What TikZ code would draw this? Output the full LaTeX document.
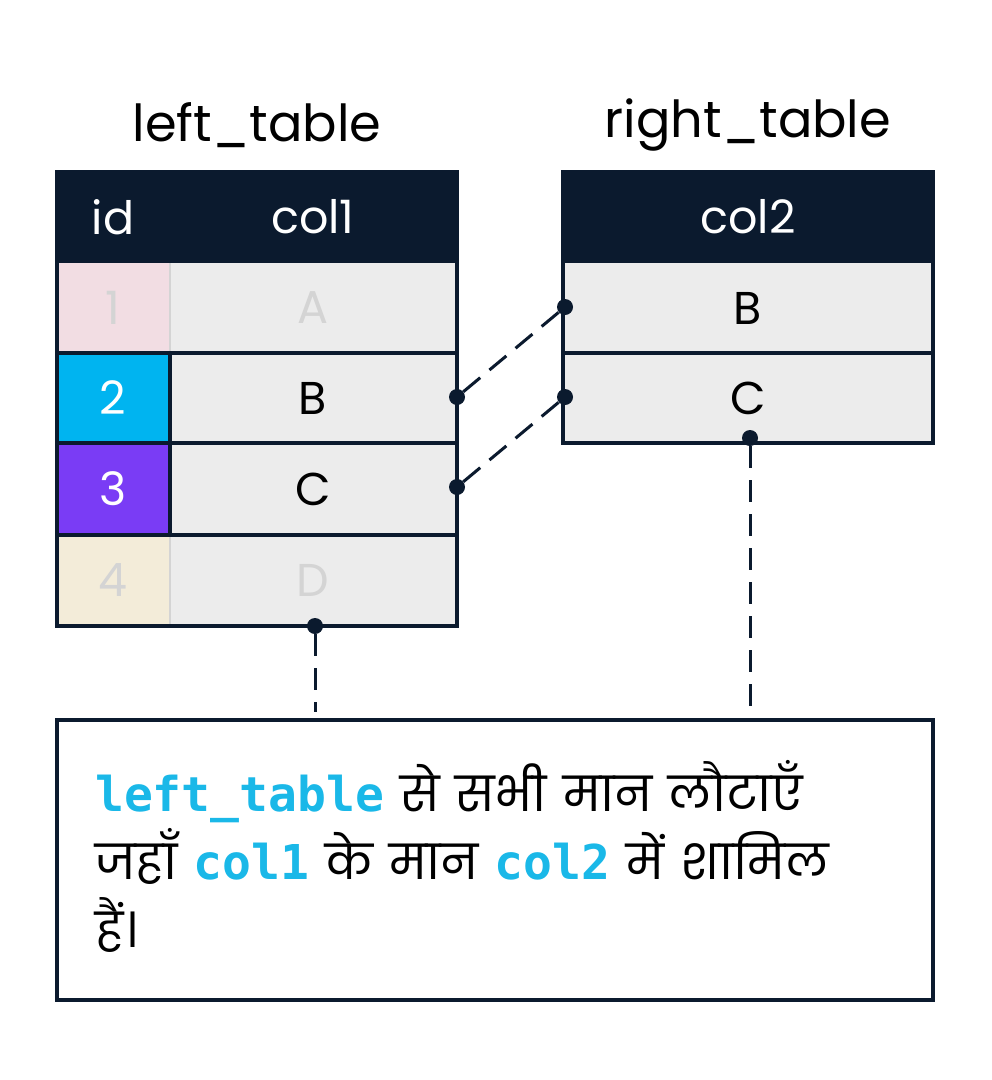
\documentclass[tikz,border=0pt]{standalone}
\usepackage{fontspec}
\setmainfont{Poppins}
\newfontfamily\codefont{DejaVu Sans Mono}
\begin{document}
\definecolor{hdr}{HTML}{0B1A2E}
\definecolor{cellbg}{HTML}{ECECEC}
\definecolor{faded}{HTML}{D4D4D4}
\definecolor{idone}{HTML}{F2DDE3}
\definecolor{idtwo}{HTML}{00B4F0}
\definecolor{idthree}{HTML}{7A3CF5}
\definecolor{idfour}{HTML}{F3ECD9}
\definecolor{code}{HTML}{1AB8E8}
\begin{tikzpicture}[x=1pt,y=-1pt,
  cell/.style={draw=hdr,line width=3.5pt,fill=cellbg},
  txt/.style={font=\fontsize{46}{52}\selectfont},
  ttl/.style={font=\fontsize{51}{56}\selectfont},
  con/.style={line width=3pt,dash pattern=on 22pt off 12pt,draw=hdr},
  dot/.style={circle,fill=hdr,inner sep=0pt,minimum size=16pt}]
\useasboundingbox (0,0) rectangle (992,1080);
\fill[white] (0,0) rectangle (992,1080);
% left table
\fill[hdr] (57,172) rectangle (457,263);
\node[txt,text=white] (hid) at (113,217) {id};
\node[txt,text=white] (hc1) at (313,217) {col1};
\fill[cellbg] (57,263) rectangle (457,626);
\fill[idone] (57,263) rectangle (170,353);
\fill[idtwo] (57,353) rectangle (170,443);
\fill[idthree] (57,443) rectangle (170,535);
\fill[idfour] (57,535) rectangle (170,626);
\draw[faded,line width=2.5pt] (170,263)--(170,353) (170,535)--(170,626);
\draw[hdr,line width=3.5pt] (57,172) rectangle (457,626);
\draw[hdr,line width=3.5pt] (57,353)--(457,353) (57,443)--(457,443) (57,535)--(457,535) (170,353)--(170,535);
\node[txt,text=faded] (i1) at (113,308) {1};
\node[txt,text=white] (i2) at (113,398) {2};
\node[txt,text=white] (i3) at (113,489) {3};
\node[txt,text=faded] (i4) at (113,580) {4};
\node[txt,text=faded] (a) at (313,308) {A};
\node[txt] (b) at (313,398) {B};
\node[txt] (c) at (313,489) {C};
\node[txt,text=faded] (d) at (313,580) {D};
\node[ttl] (lt) at (257,125) {left\_table};
% right table
\fill[hdr] (563,172) rectangle (933,263);
\node[txt,text=white] (hc2) at (748,217) {col2};
\fill[cellbg] (563,263) rectangle (933,443);
\draw[hdr,line width=3.5pt] (563,172) rectangle (933,443);
\draw[hdr,line width=3.5pt] (563,353)--(933,353);
\node[txt] (rb) at (748,308) {B};
\node[txt] (rc) at (748,398) {C};
\node[ttl] (rt) at (748,125) {right\_table};
% box
\draw[hdr,line width=3.5pt] (57,720) rectangle (933,1000);
\node[anchor=north west,align=left,text width=830pt,inner sep=0pt,font=\fontsize{48}{68}\selectfont] (note) at (95,760)
 {{\codefont\bfseries\color{code}left\_table} से सभी मान लौटाएँ\\ जहाँ {\codefont\bfseries\color{code}col1} के मान {\codefont\bfseries\color{code}col2} में शामिल\\ हैं।};
% connectors
\node[dot] (p1) at (457,397) {};
\node[dot] (p2) at (457,487) {};
\node[dot] (q1) at (565,307) {};
\node[dot] (q2) at (565,397) {};
\node[dot] (pd) at (315,626) {};
\node[dot] (qc) at (750,438) {};
\coordinate (e1) at (315,712);
\coordinate (e2) at (750,718);
\draw[con] (p1)--(q1);
\draw[con] (p2)--(q2);
\draw[con] (pd)--(e1);
\draw[con] (qc)--(e2);
\end{tikzpicture}
\end{document}
